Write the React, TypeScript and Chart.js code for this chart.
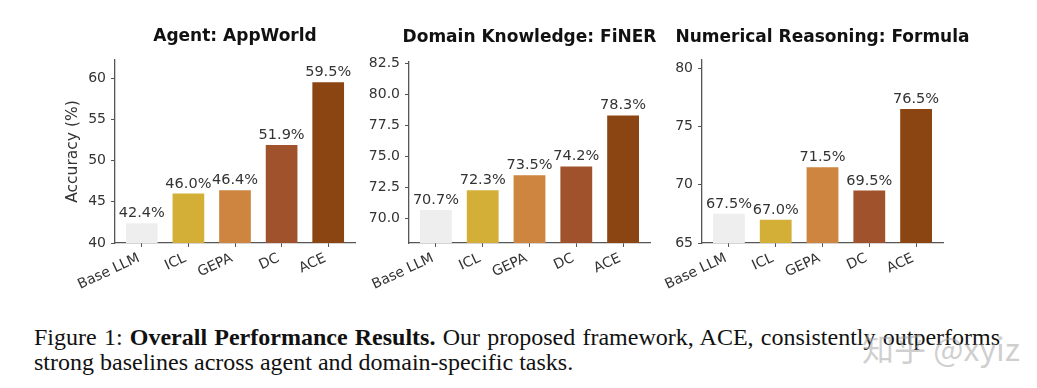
import React, { useEffect, useRef } from "react";
import { Chart, registerables } from "chart.js";

Chart.register(...registerables);

// ---------- data ----------
const categories = ["Base LLM", "ICL", "GEPA", "DC", "ACE"];
const barColors = ["#eeeeee", "#d4af37", "#cd853f", "#a0522d", "#8b4513"];

const appWorldTitle = "Agent: AppWorld";
const appWorldValues = [42.4, 46.0, 46.4, 51.9, 59.5];
const appWorldTicks = [40, 45, 50, 55, 60];

const finerTitle = "Domain Knowledge: FiNER";
const finerValues = [70.7, 72.3, 73.5, 74.2, 78.3];
const finerTicks = [70.0, 72.5, 75.0, 77.5, 80.0, 82.5];

const formulaTitle = "Numerical Reasoning: Formula";
const formulaValues = [67.5, 67.0, 71.5, 69.5, 76.5];
const formulaTicks = [65, 70, 75, 80];

const yAxisLabel = "Accuracy (%)";

const captionLabel = "Figure 1: ";
const captionBold = "Overall Performance Results.";
const captionLine1Rest =
  " Our proposed framework, ACE, consistently outperforms";
const captionLine2 = "strong baselines across agent and domain-specific tasks.";
const watermark = "知乎 @xyiz";

// ---------- styles ----------
const FONT = "'DejaVu Sans', sans-serif";
const SPINE = "#555555";
const TEXT = "#333333";
const CANVAS_H = 300;
const AXIS_BOTTOM = 243;
const X_PAD = 0.575;

type PanelProps = {
  title: string;
  values: number[];
  ticks: number[];
  yMin: number;
  yMax: number;
  decimals: number;
  showYTitle: boolean;
  left: number;
  width: number;
  yAxisWidth: number;
  padRight: number;
  top: number;
  titleY: number;
};

const valueLabelPlugin = {
  id: "valueLabels",
  afterDatasetsDraw(chart: any) {
    const ctx = chart.ctx;
    const meta = chart.getDatasetMeta(0);
    const data = chart.data.datasets[0].data as any[];
    ctx.save();
    ctx.font = `14.5px ${FONT}`;
    ctx.fillStyle = TEXT;
    ctx.textAlign = "center";
    ctx.textBaseline = "alphabetic";
    meta.data.forEach((bar: any, i: number) => {
      ctx.fillText(`${Number(data[i].y).toFixed(1)}%`, bar.x, bar.y - 6);
    });
    ctx.restore();
  },
};

const panelTitlePlugin = {
  id: "panelTitle",
  afterDraw(chart: any, _args: any, opts: any) {
    const ctx = chart.ctx;
    const area = chart.chartArea;
    ctx.save();
    ctx.font = `bold 17px ${FONT}`;
    ctx.fillStyle = "#111111";
    ctx.textAlign = "center";
    ctx.textBaseline = "middle";
    ctx.fillText(opts.text, (area.left + area.right) / 2, opts.y);
    ctx.restore();
  },
};

function Panel(p: PanelProps) {
  const ref = useRef<HTMLCanvasElement>(null);
  useEffect(() => {
    const chart = new Chart(ref.current as HTMLCanvasElement, {
      type: "bar",
      data: {
        datasets: [
          {
            data: categories.map((_, i) => ({ x: i, y: p.values[i] })),
            backgroundColor: barColors,
            borderWidth: 0,
            barPercentage: 0.68,
            categoryPercentage: 1,
          },
        ],
      },
      options: {
        animation: false,
        responsive: false,
        maintainAspectRatio: false,
        devicePixelRatio: 1,
        events: [],
        layout: { padding: { top: p.top, right: p.padRight, left: 0, bottom: 0 } },
        plugins: {
          legend: { display: false },
          tooltip: { enabled: false },
          title: { display: false },
          panelTitle: { text: p.title, y: p.titleY },
        } as any,
        scales: {
          x: {
            type: "linear",
            offset: false,
            min: -X_PAD,
            max: categories.length - 1 + X_PAD,
            grid: {
              display: true,
              drawOnChartArea: false,
              drawTicks: true,
              tickLength: 4,
              color: SPINE,
              lineWidth: 1,
              offset: false,
            },
            border: { display: true, color: SPINE, width: 1.3 },
            ticks: {
              color: TEXT,
              font: { family: FONT, size: 14 },
              minRotation: 25,
              maxRotation: 25,
              padding: 3,
              autoSkip: false,
              labelOffset: -3,
              callback: (v: any) => categories[Math.round(Number(v))] ?? "",
            },
            afterBuildTicks: (s: any) => {
              s.ticks = categories.map((_, i) => ({ value: i }));
            },
            afterFit: (s: any) => {
              s.height = CANVAS_H - AXIS_BOTTOM;
            },
          },
          y: {
            min: p.yMin,
            max: p.yMax,
            grid: {
              display: true,
              drawOnChartArea: false,
              drawTicks: true,
              tickLength: 4,
              color: SPINE,
              lineWidth: 1,
            },
            border: { display: true, color: SPINE, width: 1.3 },
            ticks: {
              color: TEXT,
              font: { family: FONT, size: 14 },
              padding: 5,
              callback: (v: any) => Number(v).toFixed(p.decimals),
            },
            afterBuildTicks: (s: any) => {
              s.ticks = p.ticks.map((v) => ({ value: v }));
            },
            afterFit: (s: any) => {
              s.width = p.yAxisWidth;
            },
            title: {
              display: p.showYTitle,
              text: yAxisLabel,
              color: TEXT,
              font: { family: FONT, size: 15.5 },
              padding: { top: 64, bottom: 0 },
            },
          },
        },
      },
      plugins: [valueLabelPlugin, panelTitlePlugin],
    });
    return () => chart.destroy();
  }, []);
  return (
    <canvas
      ref={ref}
      width={p.width}
      height={CANVAS_H}
      style={{
        position: "absolute",
        left: p.left,
        top: 0,
        width: p.width,
        height: CANVAS_H,
        display: "block",
      }}
    />
  );
}

export default function App() {
  const serif = "'Liberation Serif', 'Times New Roman', serif";
  return (
    <div
      style={{
        position: "fixed",
        left: 0,
        top: 0,
        width: 1037,
        height: 388,
        background: "#ffffff",
        overflow: "hidden",
      }}
    >
      <Panel
        title={appWorldTitle}
        values={appWorldValues}
        ticks={appWorldTicks}
        yMin={40}
        yMax={62.2}
        decimals={0}
        showYTitle={true}
        left={0}
        width={362}
        yAxisWidth={115}
        padRight={7}
        top={60}
        titleY={37}
      />
      <Panel
        title={finerTitle}
        values={finerValues}
        ticks={finerTicks}
        yMin={68.05}
        yMax={82.6}
        decimals={1}
        showYTitle={false}
        left={362}
        width={298}
        yAxisWidth={47}
        padRight={10}
        top={62}
        titleY={38}
      />
      <Panel
        title={formulaTitle}
        values={formulaValues}
        ticks={formulaTicks}
        yMin={65}
        yMax={80.7}
        decimals={0}
        showYTitle={false}
        left={660}
        width={377}
        yAxisWidth={42}
        padRight={94}
        top={60}
        titleY={37.5}
      />
      <div
        style={{
          position: "absolute",
          left: 34,
          top: 325,
          width: 966,
          fontFamily: serif,
          fontSize: 24,
          lineHeight: "25px",
          color: "#111111",
        }}
      >
        <div style={{ textAlign: "justify", textAlignLast: "justify", whiteSpace: "nowrap" as any }}>
          <span style={{ whiteSpace: "normal" }}>
            {captionLabel}
            <b>{captionBold}</b>
            {captionLine1Rest}
          </span>
        </div>
        <div>{captionLine2}</div>
      </div>
      <div
        style={{
          position: "absolute",
          left: 862,
          top: 329,
          fontFamily: "'Noto Sans CJK SC', 'Noto Sans', sans-serif",
          fontSize: 32,
          lineHeight: "36px",
          color: "rgba(160,160,160,0.5)",
          whiteSpace: "nowrap",
        }}
      >
        {watermark}
      </div>
    </div>
  );
}
